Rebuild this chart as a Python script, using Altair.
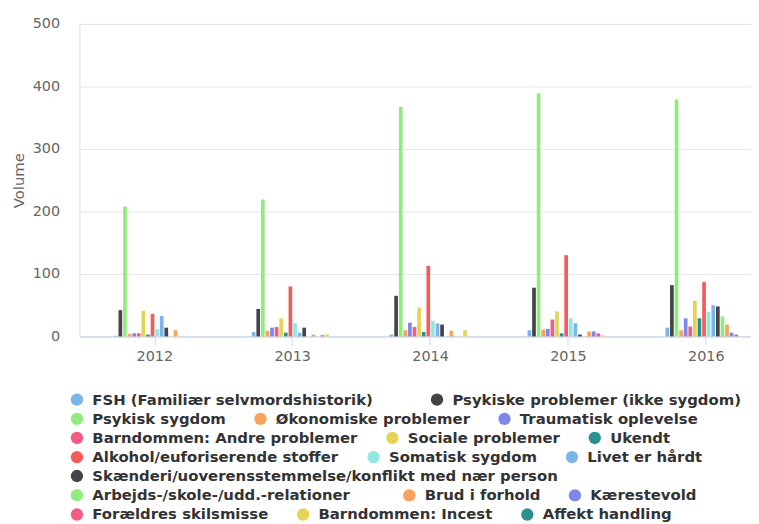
import altair as alt
import pandas as pd

years = ["2012", "2013", "2014", "2015", "2016"]

series = [
    "FSH (Familiær selvmordshistorik)",
    "Psykiske problemer (ikke sygdom)",
    "Psykisk sygdom",
    "Økonomiske problemer",
    "Traumatisk oplevelse",
    "Barndommen: Andre problemer",
    "Sociale problemer",
    "Ukendt",
    "Alkohol/euforiserende stoffer",
    "Somatisk sygdom",
    "Livet er hårdt",
    "Skænderi/uoverensstemmelse/konflikt med nær person",
    "Arbejds-/skole-/udd.-relationer",
    "Brud i forhold",
    "Kærestevold",
    "Forældres skilsmisse",
    "Barndommen: Incest",
    "Affekt handling",
]

colors = [
    "#7cb5ec", "#434348", "#90ed7d", "#f7a35c", "#8085e9", "#f15c80",
    "#e4d354", "#2b908f", "#f45b5b", "#91e8e1",
    "#7cb5ec", "#434348", "#90ed7d", "#f7a35c", "#8085e9", "#f15c80",
    "#e4d354", "#2b908f",
]

# values per series for 2012..2016
v_fsh = [1, 7, 3, 10, 14]
v_psyk_probl = [42, 44, 65, 78, 82]
v_psyk_sygdom = [208, 219, 367, 389, 379]
v_okonomi = [4, 9, 10, 11, 10]
v_traume = [5, 14, 22, 12, 29]
v_barndom_andre = [5, 15, 15, 27, 16]
v_sociale = [41, 29, 46, 40, 57]
v_ukendt = [3, 6, 7, 5, 29]
v_alkohol = [36, 80, 113, 130, 87]
v_somatisk = [12, 21, 25, 29, 39]
v_livet = [33, 6, 21, 21, 50]
v_skaenderi = [14, 14, 19, 3, 48]
v_arbejde = [0, 0, 0, 0, 32]
v_brud = [10, 3, 9, 8, 19]
v_kaerestevold = [0, 0, 0, 8, 6]
v_skilsmisse = [0, 2, 0, 5, 3]
v_incest = [0, 3, 10, 2, 0]
v_affekt = [0, 0, 0, 0, 0]

all_values = [
    v_fsh, v_psyk_probl, v_psyk_sygdom, v_okonomi, v_traume, v_barndom_andre,
    v_sociale, v_ukendt, v_alkohol, v_somatisk, v_livet, v_skaenderi,
    v_arbejde, v_brud, v_kaerestevold, v_skilsmisse, v_incest, v_affekt,
]

# legend groups: (series indices, row number, x start, gap between items)
legend_groups = [
    ([0, 1], 0, -10, 56),
    ([2, 3, 4], 1, -10, 27),
    ([5, 6, 7], 2, -10, 27),
    ([8, 9, 10], 3, -10, 27),
    ([11], 4, -10, 27),
    ([12], 5, -10, 27),
    ([13, 14], 5, 325, 27),
    ([15, 16, 17], 6, -10, 27),
]

rows = []
for s, vals in zip(series, all_values):
    for y, v in zip(years, vals):
        rows.append({"year": y, "series": s, "value": v})
df = pd.DataFrame(rows)

FONT = "DejaVu Sans"
GRAY = "#666666"

bars = alt.Chart(df).mark_bar().encode(
    x=alt.X(
        "year:N",
        title=None,
        scale=alt.Scale(paddingInner=0.4, paddingOuter=0.1353, align=0.912, round=False),
        axis=alt.Axis(
            labelAngle=0, labelFont=FONT, labelFontSize=14.5, labelColor=GRAY,
            domainColor="#ccd6eb", tickColor="#ccd6eb", tickSize=9, labelPadding=4,
            grid=False,
        ),
    ),
    xOffset=alt.XOffset(
        "series:N", sort=series,
        scale=alt.Scale(domain=series, paddingInner=0.2, paddingOuter=0.1, round=False),
    ),
    y=alt.Y(
        "value:Q",
        title="Volume",
        scale=alt.Scale(domain=[0, 500], nice=False),
        axis=alt.Axis(
            values=[0, 100, 200, 300, 400, 500], domain=False, ticks=False,
            labelFont=FONT, labelFontSize=14.5, labelColor=GRAY, labelPadding=20,
            gridColor="#e6e6e6", titleFont=FONT, titleFontSize=15, titleColor=GRAY,
            titleFontWeight="normal", titlePadding=6,
        ),
    ),
    color=alt.Color("series:N", scale=alt.Scale(domain=series, range=colors), legend=None),
)

layers = [bars]
row_y0 = 371
row_step = 19.3
for idxs, r, lx, gap in legend_groups:
    names = [series[i] for i in idxs]
    cols = [colors[i] for i in idxs]
    lay = alt.Chart(df).transform_filter(
        alt.FieldOneOfPredicate(field="series", oneOf=names)
    ).mark_point(filled=True, opacity=0).encode(
        color=alt.Color(
            "series:N",
            scale=alt.Scale(domain=names, range=cols),
            legend=alt.Legend(
                orient="none", legendX=lx, legendY=row_y0 + r * row_step,
                direction="horizontal", title=None, symbolType="circle",
                symbolSize=155, symbolOpacity=1, symbolStrokeWidth=0,
                labelFont=FONT, labelFontSize=15, labelFontWeight="bold",
                labelColor="#333333", labelLimit=0, columnPadding=gap,
                labelOffset=8, padding=0,
            ),
        )
    )
    layers.append(lay)

chart = alt.layer(*layers).resolve_scale(color="independent").properties(
    width=677, height=315,
    autosize=alt.AutoSizeParams(type="none"),
    padding={"left": 72, "top": 14, "right": 0, "bottom": 185},
).configure_view(stroke=None).configure(background="white")

chart.save("out.html", embed_options={"renderer": "svg", "actions": False})
